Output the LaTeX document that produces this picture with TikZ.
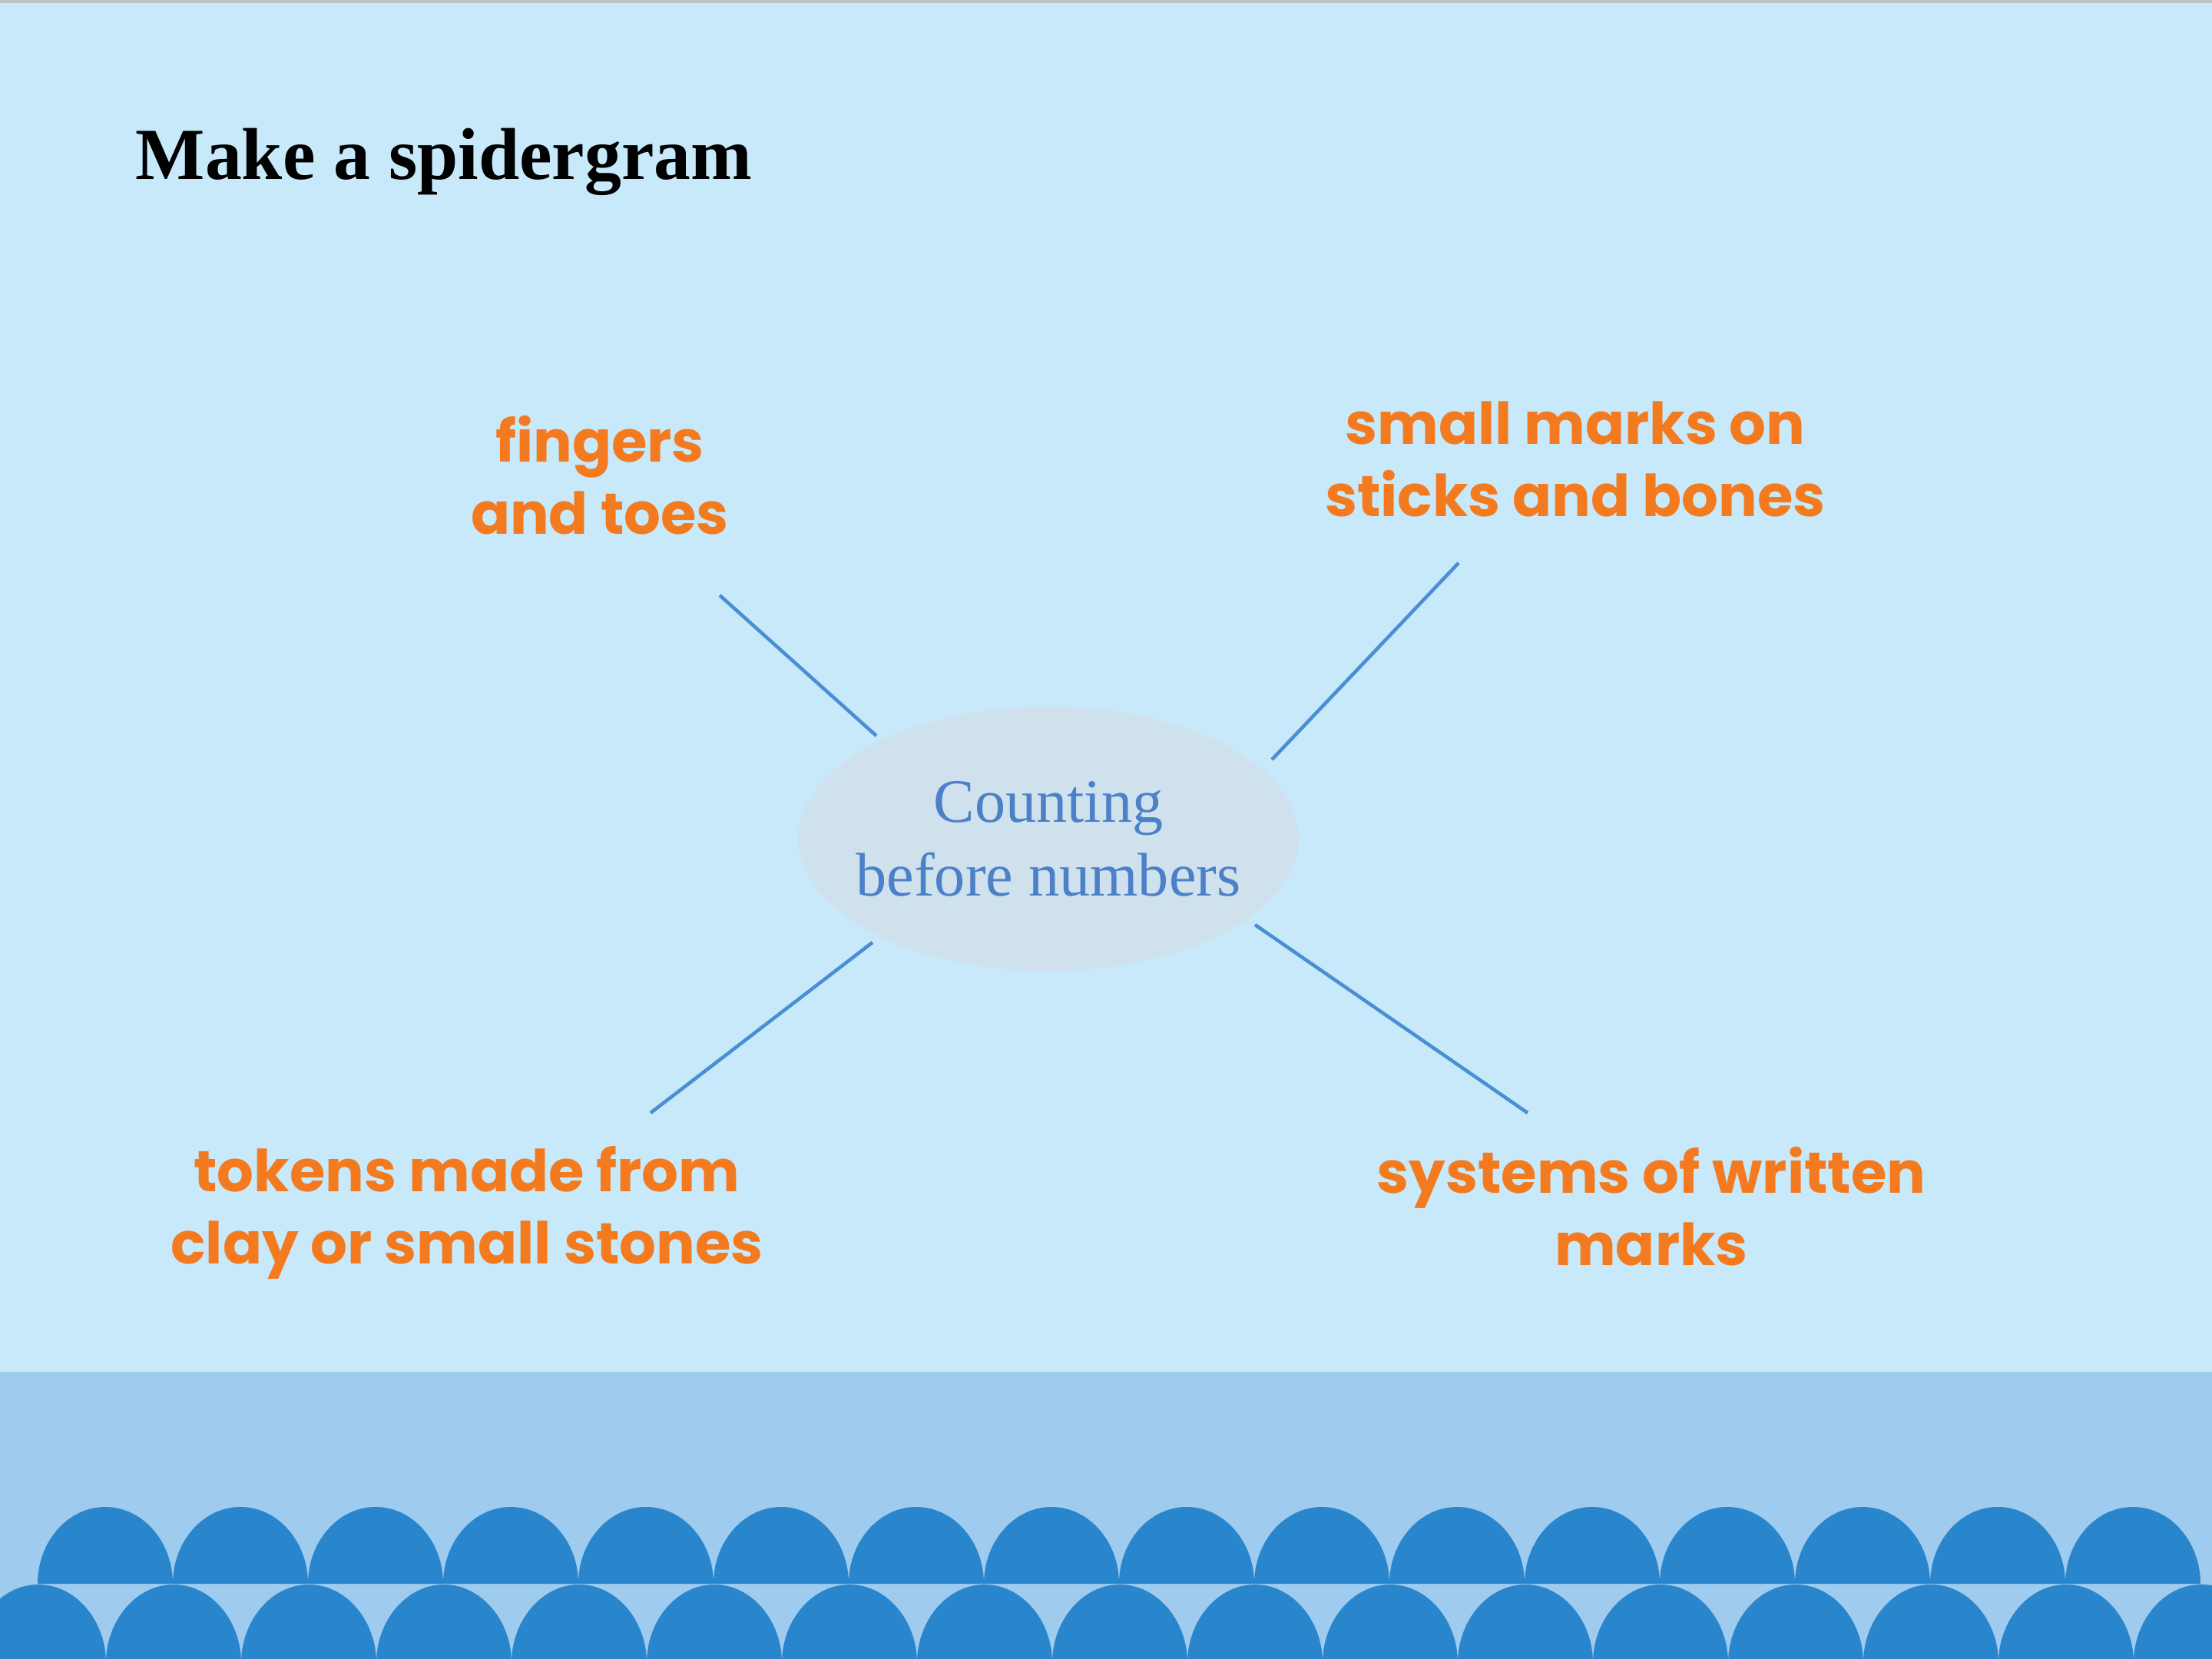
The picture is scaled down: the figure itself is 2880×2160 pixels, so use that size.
\documentclass[tikz,border=0pt]{standalone}
\usepackage{fontspec}
\setmainfont{Liberation Serif}
\newfontfamily\labelfont{Poppins}
\usetikzlibrary{shapes.geometric}

\definecolor{sky}{HTML}{C7E9FA}
\definecolor{rimgray}{HTML}{C2C2C2}
\definecolor{shore}{HTML}{9FCBEF}
\definecolor{wave}{HTML}{2A86CC}
\definecolor{linkblue}{HTML}{4A8FD4}
\definecolor{hubfill}{HTML}{CFE1EC}
\definecolor{hubtext}{HTML}{4C80C8}
\definecolor{tangerine}{HTML}{F47A1F}

\begin{document}
\begin{tikzpicture}[x=0.01cm, y=-0.01cm,
  leg/.style={draw=linkblue, line width=1.3pt},
  branch/.style={font=\labelfont\bfseries\fontsize{21.4}{26.5}\selectfont, text=tangerine,
    align=center, anchor=base, inner sep=0pt}]
  \useasboundingbox (0,0) rectangle (2880,2160);
  \clip (0,0) rectangle (2880,2160);
  % backdrop
  \fill[sky] (0,0) rectangle (2880,2160);
  \fill[rimgray] (0,0) rectangle (2880,4);
  \fill[shore] (0,1786) rectangle (2880,2160);
  % waves, back row then front row
  \foreach \i in {0,...,15} {
    \pgfmathsetmacro{\x}{49+176*\i}
    \fill[wave] (\x,2062) .. controls (\x,2007) and (\x+39.4,1962) .. (\x+88,1962)
      .. controls (\x+136.6,1962) and (\x+176,2007) .. (\x+176,2062) -- cycle;
  }
  \foreach \i in {0,...,16} {
    \pgfmathsetmacro{\x}{-38+176*\i}
    \fill[wave] (\x,2165) .. controls (\x,2110) and (\x+39.4,2063) .. (\x+88,2063)
      .. controls (\x+136.6,2063) and (\x+176,2110) .. (\x+176,2165) -- cycle;
  }
  % title
  \node[anchor=base west, inner sep=0pt, font=\bfseries\fontsize{27.2}{32}\selectfont] (title)
    at (176,233) {Make a spidergram};
  % centre of the spidergram
  \node[ellipse, fill=hubfill, minimum width=6.48cm, minimum height=3.44cm,
    inner xsep=-0.2cm, inner ysep=0.4cm,
    align=center, text=hubtext, font=\fontsize{22.8}{27.3}\selectfont] (hub)
    at (1365,1092) {Counting\\before numbers};
  % the four legs
  \node[branch] (fingers) at (781,695) {fingers\\and toes};
  \node[branch] (marks) at (2051,672) {small marks on\\sticks and bones};
  \node[branch] (tokens) at (608,1645) {tokens made from\\clay or small stones};
  \node[branch] (systems) at (2150,1647) {systems of written\\marks};
  % leg ends
  \coordinate (ul-in) at (1141,958);   \coordinate (ul-out) at (937,775);
  \coordinate (ur-in) at (1656,989);   \coordinate (ur-out) at (1899,733);
  \coordinate (ll-in) at (1136,1227);  \coordinate (ll-out) at (847,1449);
  \coordinate (lr-in) at (1634,1204);  \coordinate (lr-out) at (1989,1449);
  \draw[leg] (ul-in) -- (ul-out);
  \draw[leg] (ur-in) -- (ur-out);
  \draw[leg] (ll-in) -- (ll-out);
  \draw[leg] (lr-in) -- (lr-out);
\end{tikzpicture}
\end{document}
